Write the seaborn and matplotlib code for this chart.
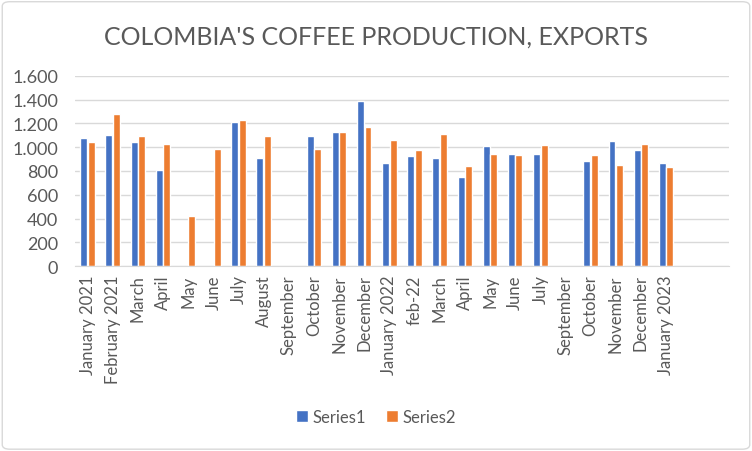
import matplotlib.pyplot as plt
import matplotlib.ticker as mticker
from matplotlib.patches import FancyBboxPatch
import seaborn as sns
import pandas as pd
import numpy as np

# Month labels (two trailing empty slots as in the original chart)
months = ['January 2021', 'February 2021', 'March', 'April', 'May', 'June',
          'July', 'August', 'September', 'October', 'November', 'December',
          'January 2022', 'feb-22', 'March', 'April', 'May', 'June', 'July',
          'September', 'October', 'November', 'December', 'January 2023',
          '', '']

series1 = [1081, 1106, 1047, 810, None, None, 1208, 912, None, 1098, 1132,
           1386, 869, 928, 912, 751, 1013, 945, 945, None, 886, 1055, 979,
           869, None, None]
series2 = [1047, 1276, 1098, 1030, 420, 988, 1225, 1098, None, 988, 1132,
           1174, 1064, 979, 1115, 844, 945, 937, 1022, None, 937, 852, 1030,
           835, None, None]

series_names = ['Series1', 'Series2']
colors = ['#4472C4', '#ED7D31']

# long-form table for seaborn
idx = list(range(len(months)))
df = pd.DataFrame({
    'pos': idx * 2,
    'series': [series_names[0]] * len(idx) + [series_names[1]] * len(idx),
    'value': [np.nan if v is None else v for v in series1 + series2],
})

sns.set_style('white')
plt.rcParams['font.family'] = ['Lato', 'DejaVu Sans']

fig = plt.figure(figsize=(7.52, 4.52), dpi=100)
ax = fig.add_axes([0.0997, 0.409, 0.8697, 0.421])

sns.barplot(data=df, x='pos', y='value', hue='series', order=idx,
            hue_order=series_names, palette=colors, width=0.6, gap=0.08,
            saturation=1, ax=ax, legend=True)

ax.set_ylim(0, 1600)
ax.set_xlim(-0.5, len(months) - 0.5)
ax.yaxis.set_major_locator(mticker.MultipleLocator(200))
ax.yaxis.set_major_formatter(
    mticker.FuncFormatter(lambda v, p: f'{int(v):,}'.replace(',', '.')))
ax.grid(axis='y', color='#D9D9D9', linewidth=1)
ax.set_axisbelow(True)
for s in ['top', 'right', 'left']:
    ax.spines[s].set_visible(False)
ax.spines['bottom'].set_color('#D9D9D9')
ax.set_xticks(idx)
ax.set_xticklabels(months, rotation=90)
ax.tick_params(axis='x', length=0, labelsize=12, colors='#595959', pad=6)
ax.tick_params(axis='y', length=0, labelsize=13, colors='#595959', pad=12)
ax.set_xlabel('')
ax.set_ylabel('')

ax.legend(loc='center', bbox_to_anchor=(0.5, 0.075),
          bbox_transform=fig.transFigure, ncol=2, frameon=False,
          fontsize=12, handlelength=0.7, handleheight=0.7, columnspacing=1.2,
          handletextpad=0.3, labelcolor='#595959')

fig.text(0.5, 0.917, "COLOMBIA'S COFFEE PRODUCTION, EXPORTS", ha='center',
         va='center', fontsize=18, color='#595959')

# light chart border
fig.patches.append(FancyBboxPatch((0.003, 0.004), 0.994, 0.99,
                                  boxstyle='round,pad=0,rounding_size=0.01',
                                  transform=fig.transFigure, fill=False,
                                  edgecolor='#D9D9D9', linewidth=1))

fig.savefig('out.png', dpi=100)
